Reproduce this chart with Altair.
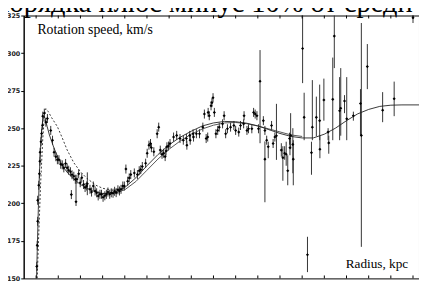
import altair as alt
import pandas as pd

# ---- data points with small symmetric error bars (R kpc, V km/s, half error) ----
R_IN = [0.03, 0.05, 0.07, 0.07, 0.12, 0.15, 0.17, 0.18, 0.22, 0.25, 0.29, 0.30, 0.37, 0.44, 0.51,
        0.66, 0.74, 0.81, 0.89, 0.96, 1.03, 1.11, 1.18, 1.25, 1.33, 1.40, 1.47, 1.55, 1.59, 1.62,
        1.70, 1.77, 1.84, 1.92, 1.99, 2.06, 2.14, 2.21, 2.28, 2.43, 2.50, 2.58, 2.66, 2.73, 2.80,
        2.88, 2.95, 3.02, 3.10, 3.17, 3.24, 3.32, 3.39, 3.47, 3.54, 3.61, 3.69, 3.76, 3.83, 3.91,
        3.98, 4.05, 4.13, 4.20, 4.27, 4.43, 4.57, 4.65, 4.72, 4.79, 4.94, 5.01, 5.09, 5.16, 5.20,
        5.31, 5.46, 5.53, 5.60, 5.68, 5.75, 5.82, 5.86, 5.90, 5.97, 6.04, 6.20, 6.34, 6.49, 6.64,
        6.78, 6.80, 6.93, 6.95, 7.08, 7.10, 7.23, 7.37, 7.52, 7.59, 7.67, 7.74, 7.76, 7.81, 7.89,
        7.93, 7.98, 8.04, 8.11, 8.19, 8.26, 8.41, 8.48, 8.55, 8.63, 8.77, 8.92, 9.00, 9.14, 9.22,
        9.36, 9.38, 9.51, 9.58, 9.73, 9.81, 9.88, 9.96, 10.03, 10.25, 10.32, 10.40, 10.62, 10.69,
        10.77]
V_IN = [158, 172, 188, 202, 212, 219.6, 228, 234, 241, 246.5, 252, 258, 260, 254, 256.4,
        248.5, 242, 234, 231, 229, 229, 226, 225.6, 223.6, 226.5, 223.6, 222, 221, 205.8, 219,
        218, 216, 216, 219.6, 213.7, 217, 212.5, 210.5, 211.5, 209.3, 207.5, 211.5, 208.2, 207, 204.9,
        206, 206, 204, 205, 206, 207.5, 206, 207, 206.7, 208, 207.1, 209, 208.2, 209.3, 211.5,
        211.5, 222.8, 214.7, 216.9, 219.1, 220.2, 219.1, 221.7, 222.4, 224.5, 226.7, 233.3, 238.7, 239.8, 237,
        234.3, 246.3, 250.7, 235.4, 232.6, 233.3, 231.1, 234.8, 237.6, 238.1, 239.8, 244.1, 245.2, 243.1, 242,
        243.1, 238.7, 245.2, 242, 246.3, 244.1, 246.3, 246.3, 250.7, 259.4, 243.1, 244.1, 260.5, 258.3, 264.9,
        267, 270.3, 260.5, 246.3, 248.5, 250.7, 252.9, 258.3, 246.3, 249.6, 250.7, 251.8, 248.5, 247.4, 251.8,
        252.9, 258.3, 248.5, 249.6, 249.6, 260.5, 259.4, 258.3, 249.6, 255, 248.5, 242, 251.8, 239.8,
        244.1]
E_IN = [3] * len(R_IN)

# ---- data points with large, asymmetric error bars ----
R_OUT = [1.80, 2.31, 10.10, 10.32, 10.47, 10.84, 11.06, 11.13, 11.21, 11.28, 11.35, 11.43, 11.45,
         11.48, 11.58, 11.60, 12.02, 12.09, 12.24, 12.42, 12.46, 12.64, 12.79, 12.80, 12.98, 13.17,
         13.20, 13.38, 13.45, 13.69, 13.74, 13.91, 14.01, 14.31, 14.63, 14.67, 14.94, 15.63, 16.15, 17.00]
V_OUT = [201, 213, 281.2, 229.4, 237.6, 245, 235.4, 230.4, 233.3, 232.6, 221.7, 243.1, 237,
         245.2, 239.2, 229.4, 303, 257.2, 165.7, 233.7, 250.7, 257.2, 255, 236, 268.8, 247.4,
         240.2, 269.2, 311.3, 261.6, 263.3, 268.1, 256.2, 258.3, 266.4, 245.2, 291, 262, 269.6, 323.5]
LO_OUT = [198.2, 205.4, 240, 200.7, 230, 228.9, 231, 215, 229, 225, 212, 239, 232,
          236, 220, 212, 280, 242, 154.2, 219, 242, 244.7, 242, 230, 255, 242,
          233, 242, 290, 242, 245, 260, 242, 255, 245, 171, 276, 254, 258, 320]
HI_OUT = [215.2, 220.6, 302, 241.2, 241, 266.2, 240, 238, 238, 241, 232, 247, 242,
          260, 250, 242, 330, 273.6, 177.7, 241, 282, 271, 279, 245, 283, 250,
          245, 297, 330, 284, 290, 272, 284, 261, 276, 320, 306, 274, 281, 327]

# ---- model curves ----
CURVE_A_R = [0.02, 0.05, 0.10, 0.15, 0.20, 0.25, 0.30, 0.35, 0.40, 0.50, 0.60, 0.80, 1.00, 1.25, 1.50,
             1.75, 2.00, 2.50, 3.00, 3.50, 4.00, 4.50, 5.00, 5.50, 6.00, 6.50, 7.00, 7.50, 8.00, 8.50,
             9.00, 9.50, 10.00, 10.50, 11.00, 11.50, 12.00, 12.50, 13.00, 13.50, 14.00, 14.50, 15.00,
             15.50, 16.00, 16.50, 17.30]
CURVE_A_V = [150, 168, 196, 220, 237, 249, 255.5, 257.5, 256.5, 251, 245.5, 237, 230, 223.5, 219,
             215.5, 212.5, 208.5, 206.5, 207, 210.5, 217, 225, 232.5, 239, 244, 248, 251.5, 253.5, 254.5,
             254.3, 253.3, 251.5, 249, 246.5, 244.5, 243.5, 243.5, 246, 250, 255, 259.5, 262.5,
             264.5, 265.3, 265.5, 265.5]
CURVE_B_R = [3.0, 3.5, 4.0, 4.5, 5.0, 5.5, 6.0, 6.5, 7.0, 7.5, 8.0, 8.5, 9.0, 9.5, 10.0, 10.5, 11.0, 11.5, 12.0]
CURVE_B_V = [206.5, 206.5, 209, 214.5, 222, 229.5, 236, 241.5, 246, 249.5, 252, 253.5, 253.8, 253, 251.5,
             249.5, 247.5, 245.5, 244.5]
DASH_R = [0.05, 0.10, 0.20, 0.30, 0.38, 0.44, 0.55, 0.70, 0.96, 1.18, 1.40, 1.70, 2.00, 2.30, 2.70,
          3.00, 3.50, 4.00]
DASH_V = [150, 172, 212, 243, 259, 263, 261, 257, 251, 243.5, 235.5, 227, 221, 216.5, 212,
          210, 208.5, 210.5]

Y_TICKS = [150, 175, 200, 225, 250, 275, 300, 325]
X_TICKS = list(range(0, 18))

pts = pd.concat([
    pd.DataFrame({"R": R_IN, "V": V_IN,
                  "lo": [v - e for v, e in zip(V_IN, E_IN)],
                  "hi": [v + e for v, e in zip(V_IN, E_IN)]}),
    pd.DataFrame({"R": R_OUT, "V": V_OUT, "lo": LO_OUT, "hi": HI_OUT}),
], ignore_index=True)

W, H = 403, 268
xs = alt.Scale(domain=[-0.56, 17.27], nice=False, zero=False)
ys = alt.Scale(domain=[150, 325], nice=False, zero=False)

yaxis = alt.Axis(values=Y_TICKS, title=None, grid=False, labelFont="DejaVu Sans",
                 labelFontWeight="bold", labelFontSize=6.5, labelColor="#222",
                 tickSize=3, tickColor="black", domainColor="black", labelPadding=1,
                 labelOverlap=False, labelFlush=False)

X = lambda f: alt.X(f, scale=xs, axis=None)
Y = lambda f: alt.Y(f, scale=ys, axis=yaxis)

bars = alt.Chart(pts).mark_rule(color="#333333", strokeWidth=1, clip=True).encode(
    x=X("R:Q"), y=Y("lo:Q"), y2="hi:Q",
)
dots = alt.Chart(pts).mark_point(filled=True, shape="diamond", size=10, color="black",
                                 opacity=1, clip=True).encode(
    x=X("R:Q"), y=Y("V:Q"),
)

def line(rs, vs, dash=None, color="#222"):
    df = pd.DataFrame({"R": rs, "V": vs})
    kw = dict(color=color, strokeWidth=0.9, clip=True)
    if dash:
        kw["strokeDash"] = dash
    return alt.Chart(df).mark_line(**kw).encode(
        x=X("R:Q"), y=Y("V:Q"), order="R:Q",
    )

curve_a = line(CURVE_A_R, CURVE_A_V)
curve_b = line(CURVE_B_R, CURVE_B_V, color="#444")
curve_d = line(DASH_R, DASH_V, dash=[2, 2])

ticks_df = pd.DataFrame({"t": X_TICKS})
top_ticks = alt.Chart(ticks_df).mark_rule(color="black", strokeWidth=1).encode(
    x=X("t:Q"), y=alt.value(0), y2=alt.value(3))
bot_ticks = alt.Chart(ticks_df).mark_rule(color="black", strokeWidth=1).encode(
    x=X("t:Q"), y=alt.value(H - 3), y2=alt.value(H))

def label(txt, x, y, size, align="left", font="Liberation Serif"):
    return alt.Chart(pd.DataFrame({"t": [txt]})).mark_text(
        font=font, fontSize=size, align=align, baseline="alphabetic", color="black"
    ).encode(text="t:N", x=alt.value(x), y=alt.value(y))

ylab = label("Rotation speed, km/s", 14, 19, 14)
xlab = label("Radius, kpc", 392, 257, 13.5, align="right")
header = label("порядка плюс минус 10% от средн", -30, -4, 29)

chart = alt.layer(
    bars, curve_d, curve_b, curve_a, dots, top_ticks, bot_ticks, ylab, xlab, header
).properties(
    width=W, height=H,
    padding={"left": 16, "top": 5, "right": 0, "bottom": 1},
    autosize=alt.AutoSizeParams(type="none"),
).configure_view(stroke="black", strokeWidth=1)

chart.save("out.html", embed_options={"renderer": "svg", "actions": False})
